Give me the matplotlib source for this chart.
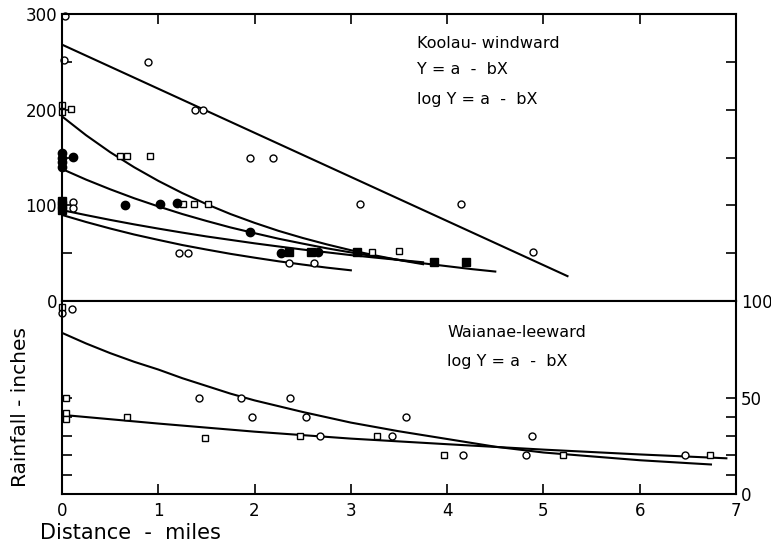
import matplotlib
matplotlib.use("Agg")
import matplotlib.pyplot as plt

# ── Koolau (windward) — puntos ────────────────────────────
koolau_oc_x = [0.03, 0.02, 0.89, 1.38, 1.46, 1.95, 2.19, 3.10, 4.14, 4.89, 1.22, 1.31, 2.36, 2.62, 0.11, 0.11]
koolau_oc_y = [298, 252, 250, 200, 200, 150, 150, 101, 101, 51, 50, 50, 40, 40, 104, 97]

koolau_os_x = [0.0, 0.0, 0.09, 0.60, 0.68, 0.91, 1.26, 1.37, 1.52, 3.22, 3.50]
koolau_os_y = [205, 198, 201, 152, 152, 152, 101, 101, 101, 51, 52]

koolau_fc_x = [0.0, 0.0, 0.0, 0.0, 0.11, 0.65, 1.02, 1.19, 1.95, 2.27, 2.66]
koolau_fc_y = [155, 150, 145, 140, 151, 100, 101, 102, 72, 50, 51]

koolau_fs_x = [0.0, 0.0, 0.0, 2.36, 2.59, 3.06, 3.86, 4.20]
koolau_fs_y = [105, 100, 95, 51, 51, 51, 41, 41]

# ── Koolau — curvas ajustadas ────────────────────────────
lin_a_x = [0.0, 5.25]
lin_a_y = [268, 26]

curva_b_x = [0.0, 0.25, 0.5, 0.75, 1.0, 1.25, 1.5, 1.75, 2.0, 2.25, 2.5, 2.75, 3.0, 3.25, 3.5, 3.75]
curva_b_y = [193, 173.3, 155.6, 139.8, 125.6, 112.8, 101.3, 90.9, 81.7, 73.3, 65.9, 59.2, 53.1, 47.7, 42.8, 38.5]

curva_c_x = [0.0, 0.25, 0.5, 0.75, 1.0, 1.25, 1.5, 1.75, 2.0, 2.25, 2.5, 2.75, 3.0, 3.25, 3.5, 3.75, 4.0, 4.25, 4.5]
curva_c_y = [138, 126.9, 116.8, 107.4, 98.9, 90.9, 83.7, 76.9, 70.9, 65.1, 60.0, 55.1, 50.8, 46.6, 43.0, 39.4, 36.4, 33.4, 30.8]

curva_d_x = [0.0, 0.25, 0.5, 0.75, 1.0, 1.25, 1.5, 1.75, 2.0, 2.25, 2.5, 2.75, 3.0, 3.25, 3.5, 3.75]
curva_d_y = [95, 89.8, 84.8, 80.1, 75.7, 71.5, 67.5, 63.9, 60.3, 57.0, 53.8, 50.9, 48.0, 45.4, 42.9, 40.5]

curva_e_x = [0.0, 0.25, 0.5, 0.75, 1.0, 1.25, 1.5, 1.75, 2.0, 2.25, 2.5, 2.75, 3.0]
curva_e_y = [90, 82.6, 75.8, 69.5, 63.9, 58.5, 53.8, 49.3, 45.3, 41.5, 38.1, 34.9, 32.1]

# ── Waianae (leeward) — puntos ────────────────────────────
waianae_oc_x = [0.0, 0.10, 1.42, 1.86, 1.97, 2.37, 2.53, 2.68, 3.43, 3.57, 4.16, 4.82, 4.88, 6.47]
waianae_oc_y = [94, 96, 50, 50, 40, 50, 40, 30, 30, 40, 20, 20, 30, 20]

waianae_os_x = [0.0, 0.04, 0.04, 0.04, 0.67, 1.49, 2.47, 3.27, 3.97, 5.20, 6.73]
waianae_os_y = [97, 50, 42, 39, 40, 29, 30, 30, 20, 20, 20]

# ── Waianae — curvas ──────────────────────────────────────
curva_f_x = [0.0, 0.25, 0.5, 0.75, 1.0, 1.25, 1.5, 1.75, 2.0, 2.5, 3.0, 3.5, 4.0, 4.5, 5.0, 5.5, 6.0, 6.5, 6.74]
curva_f_y = [83.5, 78, 73, 68.5, 64.5, 60, 56, 52, 48.5, 42.5, 37, 32.5, 28.5, 24.5, 21.5, 19.5, 17.5, 16, 15.3]

curva_g_x = [0.0, 1.0, 2.0, 3.0, 4.0, 5.0, 6.0, 6.9]
curva_g_y = [41, 36.5, 32.3, 28.7, 25.8, 23, 20.5, 18.5]

x_ticks = [0, 1, 2, 3, 4, 5, 6, 7]

# ── Estilo ────────────────────────────────────────────────
LW = 1.5
MS = 5
plt.rcParams['font.family'] = ['DejaVu Sans']

fig = plt.figure(figsize=(7.71, 5.47), dpi=100)
ax1 = fig.add_axes([0.0804, 0.4497, 0.8742, 0.5247])
ax2 = fig.add_axes([0.0804, 0.0969, 0.8742, 0.3528])

for ax in (ax1, ax2):
    for s in ax.spines.values():
        s.set_linewidth(1.5)

# Panel superior
for xs, ys in [(lin_a_x, lin_a_y), (curva_b_x, curva_b_y), (curva_c_x, curva_c_y),
               (curva_d_x, curva_d_y), (curva_e_x, curva_e_y)]:
    ax1.plot(xs, ys, color='black', lw=LW)

ax1.plot(koolau_oc_x, koolau_oc_y, 'o', mfc='white', mec='black', ms=MS, mew=1, clip_on=False)
ax1.plot(koolau_os_x, koolau_os_y, 's', mfc='white', mec='black', ms=MS, mew=1, clip_on=False)
ax1.plot(koolau_fc_x, koolau_fc_y, 'o', color='black', ms=MS + 1, clip_on=False)
ax1.plot(koolau_fs_x, koolau_fs_y, 's', color='black', ms=MS + 0.5, clip_on=False)

ax1.set_xlim(0, 7)
ax1.set_ylim(0, 300)
ax1.set_xticks([1, 2, 3, 4, 5, 6])
ax1.tick_params(axis='x', bottom=False, top=True, labelbottom=False,
                direction='in', length=7, width=1.2)
ax1.set_yticks([0, 100, 200, 300])
ax1.set_yticks([50, 150, 250], minor=True)
ax1.tick_params(axis='y', which='both', left=True, right=True, direction='in',
                length=7, width=1.2, labelsize=12)

ax1.text(3.69, 269, 'Koolau- windward', fontsize=11.5, va='center')
ax1.text(3.69, 242, 'Y = a  -  bX', fontsize=11.5, va='center')
ax1.text(3.69, 211, 'log Y = a  -  bX', fontsize=11.5, va='center')

# Panel inferior
ax2.plot(curva_f_x, curva_f_y, color='black', lw=LW)
ax2.plot(curva_g_x, curva_g_y, color='black', lw=LW)
ax2.plot(waianae_oc_x, waianae_oc_y, 'o', mfc='white', mec='black', ms=MS, mew=1, clip_on=False)
ax2.plot(waianae_os_x, waianae_os_y, 's', mfc='white', mec='black', ms=MS, mew=1, clip_on=False)

ax2.set_xlim(0, 7)
ax2.set_ylim(0, 100)
ax2.set_xticks(x_ticks)
ax2.tick_params(axis='x', direction='in', length=7, width=1.2, labelsize=12, pad=6)
ax2.set_yticks([0, 50, 100])
ax2.set_yticks([10, 20, 30, 40], minor=True)
ax2.tick_params(axis='y', which='both', left=True, right=True, labelleft=False,
                labelright=True, direction='in', length=7, width=1.2, labelsize=12)

ax2.text(4.0, 83.5, 'Waianae-leeward', fontsize=11.5, va='center')
ax2.text(4.0, 68.6, 'log Y = a  -  bX', fontsize=11.5, va='center')

fig.text(0.026, 0.256, 'Rainfall - inches', rotation=90, fontsize=14.5,
         ha='center', va='center')
fig.text(0.169, 0.026, 'Distance  -  miles', fontsize=15, ha='center', va='center')

fig.savefig('out.png', dpi=100)
